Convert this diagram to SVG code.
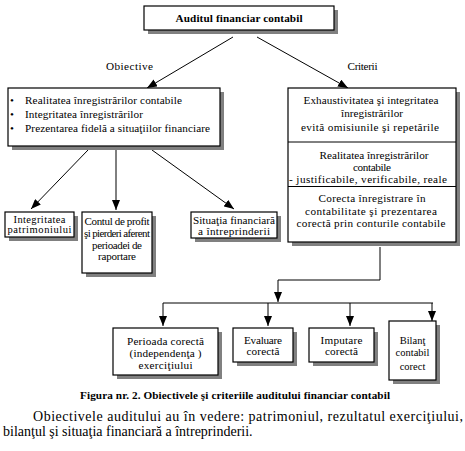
<svg xmlns="http://www.w3.org/2000/svg" width="465" height="451" viewBox="0 0 465 451" font-family="'Liberation Serif', 'DejaVu Serif', serif">
<style>
text{font-family:'Liberation Serif','DejaVu Serif',serif;fill:#000;font-size:11.2px}
.c{text-anchor:middle}
.b{font-weight:bold}
.s{font-size:10.5px}
.q{font-size:11px}
.m{font-size:10.5px}
.p{font-size:14px}
.box{fill:#fff;stroke:#000;stroke-width:1.2}
.sh{fill:#808080}
.ln{stroke:#000;stroke-width:1;fill:none}
</style>
<defs>
<marker id="ah" viewBox="0 0 10 8" refX="10" refY="4" markerWidth="10" markerHeight="8" markerUnits="userSpaceOnUse" orient="auto">
<path d="M0,0 L10,4 L0,8 Z" fill="#000"/>
</marker>
</defs>
<rect width="465" height="451" fill="#fff"/>
<g id="connectors">
<line class="ln" x1="233" y1="37" x2="147" y2="88" marker-end="url(#ah)"/>
<line class="ln" x1="257" y1="37" x2="348" y2="88" marker-end="url(#ah)"/>
<line class="ln" x1="88" y1="150" x2="31" y2="209" marker-end="url(#ah)"/>
<line class="ln" x1="116" y1="150" x2="116" y2="210" marker-end="url(#ah)"/>
<line class="ln" x1="152" y1="150" x2="234" y2="209" marker-end="url(#ah)"/>
<polyline class="ln" points="380,247 380,280 278,280 278,302" marker-end="url(#ah)"/>
<line class="ln" x1="163" y1="303" x2="433" y2="303"/>
<line class="ln" x1="163" y1="303" x2="163" y2="326" marker-end="url(#ah)"/>
<line class="ln" x1="268" y1="303" x2="268" y2="326" marker-end="url(#ah)"/>
<line class="ln" x1="350" y1="303" x2="350" y2="326" marker-end="url(#ah)"/>
<line class="ln" x1="432" y1="303" x2="432" y2="321" marker-end="url(#ah)"/>
<text class="c" x="129.5" y="70" textLength="47">Obiective</text>
<text class="c" x="362.5" y="70" textLength="30">Criterii</text>
</g>
<g id="root">
<rect class="sh" x="148" y="10" width="190" height="24"/>
<rect class="box" x="144" y="6" width="190" height="24"/>
<text class="c b" x="239" y="22" textLength="127">Auditul financiar contabil</text>
</g>
<g id="obiective">
<rect class="sh" x="12" y="92" width="212" height="58"/>
<rect class="box" x="8" y="88" width="212" height="58"/>
<text x="10" y="104">•</text>
<text x="10" y="118">•</text>
<text x="10" y="132">•</text>
<text x="25" y="104" textLength="157">Realitatea înregistrărilor contabile</text>
<text x="25" y="118" textLength="118">Integritatea înregistrărilor</text>
<text x="25" y="132" textLength="185">Prezentarea fidelă a situaţiilor financiare</text>
</g>
<g id="criterii">
<rect class="sh" x="292" y="92" width="168" height="154"/>
<rect class="box" x="288" y="88" width="168" height="154"/>
<line class="ln" x1="288" y1="142" x2="456" y2="142"/>
<line class="ln" x1="288" y1="186.5" x2="456" y2="186.5"/>
<text class="c" x="371" y="104" textLength="135">Exhaustivitatea şi integritatea</text>
<text class="c" x="372" y="117" textLength="62">înregistrărilor</text>
<text class="c" x="370" y="131" textLength="138">evită omisiunile şi repetările</text>
<text class="c" x="374" y="158.5" textLength="109">Realitatea înregistrărilor</text>
<text class="c" x="372" y="170.5" textLength="38">contabile</text>
<text class="c" x="368" y="182.5" textLength="158">- justificabile, verificabile, reale</text>
<text class="c" x="372" y="202" textLength="107">Corecta înregistrare în</text>
<text class="c" x="371" y="215" textLength="132">contabilitate şi prezentarea</text>
<text class="c" x="371" y="227" textLength="149">corectă prin conturile contabile</text>
</g>
<g id="integritatea">
<rect class="sh" x="9" y="216" width="69" height="25"/>
<rect class="box" x="5" y="212" width="69" height="25"/>
<text class="c s" x="39.5" y="222.5" textLength="52">Integritatea</text>
<text class="c s" x="39.5" y="233" textLength="64">patrimoniului</text>
</g>
<g id="contul">
<rect class="sh" x="86" y="216" width="70" height="61"/>
<rect class="box" x="82" y="212" width="70" height="61"/>
<text class="c q" x="117" y="225" textLength="65">Contul de profit</text>
<text class="c q" x="117" y="237" textLength="66">şi pierderi aferent</text>
<text class="c q" x="117" y="248.5" textLength="50">perioadei de</text>
<text class="c q" x="117" y="260" textLength="38">raportare</text>
</g>
<g id="situatia">
<rect class="sh" x="195" y="216" width="86" height="26"/>
<rect class="box" x="191" y="212" width="86" height="26"/>
<text class="c" x="234" y="223.5" textLength="82">Situaţia financiară</text>
<text class="c" x="234" y="234.5" textLength="72">a întreprinderii</text>
</g>
<g id="perioada">
<rect class="sh" x="117" y="332" width="105" height="47"/>
<rect class="box" x="113" y="328" width="105" height="47"/>
<text class="c" x="165.5" y="345" textLength="77">Perioada corectă</text>
<text class="c" x="165.5" y="357" textLength="72">(independenţa )</text>
<text class="c" x="165.5" y="368.5" textLength="54">exerciţiului</text>
</g>
<g id="evaluare">
<rect class="sh" x="237" y="332" width="60" height="34"/>
<rect class="box" x="233" y="328" width="60" height="34"/>
<text class="c" x="263" y="343.5" textLength="38">Evaluare</text>
<text class="c" x="263" y="355" textLength="33">corectă</text>
</g>
<g id="imputare">
<rect class="sh" x="313" y="332" width="65" height="34"/>
<rect class="box" x="309" y="328" width="65" height="34"/>
<text class="c" x="341.5" y="343.5" textLength="42">Imputare</text>
<text class="c" x="341.5" y="355" textLength="33">corectă</text>
</g>
<g id="bilant">
<rect class="sh" x="393" y="325" width="47" height="59"/>
<rect class="box" x="389" y="321" width="47" height="59"/>
<text class="c m" x="412.5" y="343.5">Bilanţ</text>
<text class="c m" x="412.5" y="356">contabil</text>
<text class="c m" x="412.5" y="369.5">corect</text>
</g>
<text class="b c" x="235" y="398.5" textLength="310">Figura nr. 2. Obiectivele şi criteriile auditului financiar contabil</text>
<text class="p" x="33" y="421" textLength="430" lengthAdjust="spacing">Obiectivele auditului au în vedere: patrimoniul, rezultatul exerciţiului,</text>
<text class="p" x="3" y="436">bilanţul şi situaţia financiară a întreprinderii.</text>
</svg>
